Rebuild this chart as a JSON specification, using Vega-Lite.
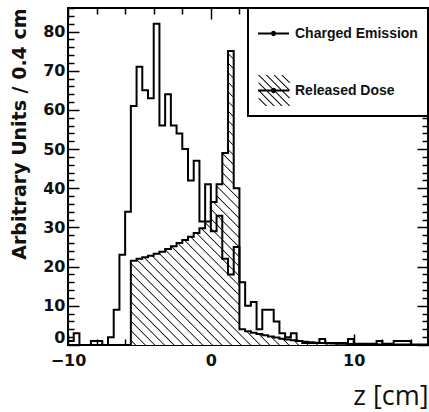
{
  "$schema": "https://vega.github.io/schema/vega-lite/v6.json",
  "width": 360,
  "height": 337,
  "autosize": {"type": "none"},
  "padding": {"left": 68, "top": 8, "right": 1, "bottom": 67},
  "background": "white",
  "data": {"values": [
    {"z": -10.0, "charged": 1, "dose": 0},
    {"z": -9.6, "charged": 3, "dose": 0},
    {"z": -9.2, "charged": 0, "dose": 0},
    {"z": -8.8, "charged": 0, "dose": 0},
    {"z": -8.4, "charged": 1, "dose": 0},
    {"z": -8.0, "charged": 1, "dose": 0},
    {"z": -7.6, "charged": 0, "dose": 0},
    {"z": -7.2, "charged": 2, "dose": 0},
    {"z": -6.8, "charged": 9, "dose": 0},
    {"z": -6.4, "charged": 23, "dose": 0},
    {"z": -6.0, "charged": 34, "dose": 0},
    {"z": -5.6, "charged": 61, "dose": 21.5},
    {"z": -5.2, "charged": 71, "dose": 22},
    {"z": -4.8, "charged": 65, "dose": 22.4},
    {"z": -4.4, "charged": 63, "dose": 22.8},
    {"z": -4.0, "charged": 82, "dose": 23.3},
    {"z": -3.6, "charged": 56, "dose": 23.8},
    {"z": -3.2, "charged": 64, "dose": 24.5},
    {"z": -2.8, "charged": 56, "dose": 25.2},
    {"z": -2.4, "charged": 54, "dose": 26},
    {"z": -2.0, "charged": 50, "dose": 26.8},
    {"z": -1.6, "charged": 42, "dose": 27.6},
    {"z": -1.2, "charged": 47, "dose": 28.6},
    {"z": -0.8, "charged": 31.5, "dose": 29.8},
    {"z": -0.4, "charged": 41, "dose": 31.5},
    {"z": 0.0, "charged": 29, "dose": 36.5},
    {"z": 0.4, "charged": 33, "dose": 41},
    {"z": 0.8, "charged": 22, "dose": 49},
    {"z": 1.2, "charged": 18, "dose": 75},
    {"z": 1.6, "charged": 25, "dose": 40},
    {"z": 2.0, "charged": 16, "dose": 4},
    {"z": 2.4, "charged": 10, "dose": 3.5},
    {"z": 2.8, "charged": 11, "dose": 3.1},
    {"z": 3.2, "charged": 4, "dose": 2.8},
    {"z": 3.6, "charged": 9, "dose": 2.5},
    {"z": 4.0, "charged": 9, "dose": 2.2},
    {"z": 4.4, "charged": 6, "dose": 1.9},
    {"z": 4.8, "charged": 3, "dose": 1.6},
    {"z": 5.2, "charged": 2, "dose": 1.4},
    {"z": 5.6, "charged": 3, "dose": 1.2},
    {"z": 6.0, "charged": 1, "dose": 1.0},
    {"z": 6.4, "charged": 0.5, "dose": 0.85},
    {"z": 6.8, "charged": 0.5, "dose": 0.7},
    {"z": 7.2, "charged": 0.5, "dose": 0.6},
    {"z": 7.6, "charged": 1.5, "dose": 0.5},
    {"z": 8.0, "charged": 0.5, "dose": 0.45},
    {"z": 8.4, "charged": 0.5, "dose": 0.4},
    {"z": 8.8, "charged": 0.5, "dose": 0.35},
    {"z": 9.2, "charged": 0.5, "dose": 0.3},
    {"z": 9.6, "charged": 1.5, "dose": 0.27},
    {"z": 10.0, "charged": 0.3, "dose": 0.24},
    {"z": 10.4, "charged": 0.3, "dose": 0.21},
    {"z": 10.8, "charged": 0.3, "dose": 0.19},
    {"z": 11.2, "charged": 0.3, "dose": 0.17},
    {"z": 11.6, "charged": 1, "dose": 0.15},
    {"z": 12.0, "charged": 0.3, "dose": 0.13},
    {"z": 12.4, "charged": 0.3, "dose": 0.12},
    {"z": 12.8, "charged": 1, "dose": 0.1},
    {"z": 13.2, "charged": 1, "dose": 0.1},
    {"z": 13.6, "charged": 1, "dose": 0.1},
    {"z": 14.0, "charged": 0, "dose": 0.1},
    {"z": 14.4, "charged": 0, "dose": 0.1},
    {"z": 14.8, "charged": 0, "dose": 0.1},
    {"z": 15.2, "charged": 0, "dose": 0.1}
  ]},
  "config": {
    "view": {"stroke": "black", "strokeWidth": 2},
    "axis": {
      "grid": false, "domain": false, "labelColor": "#111", "titleColor": "#111",
      "ticks": true, "tickColor": "black", "tickOpacity": 1, "tickWidth": 1.5, "tickSize": -11, "zindex": 1
    }
  },
  "resolve": {"axis": {"x": "independent", "y": "independent"}},
  "layer": [
    {
      "mark": {
        "type": "area",
        "interpolate": "step-after",
        "opacity": 1,
        "fill": {
          "gradient": "linear",
          "x1": 0, "y1": 0.814, "x2": 1, "y2": 0,
          "stops": [
            {"offset": 0.004, "color": "white"}, {"offset": 0.006, "color": "#111"}, {"offset": 0.008, "color": "white"},
            {"offset": 0.020, "color": "white"}, {"offset": 0.022, "color": "#111"}, {"offset": 0.024, "color": "white"},
            {"offset": 0.036, "color": "white"}, {"offset": 0.038, "color": "#111"}, {"offset": 0.040, "color": "white"},
            {"offset": 0.052, "color": "white"}, {"offset": 0.054, "color": "#111"}, {"offset": 0.056, "color": "white"},
            {"offset": 0.068, "color": "white"}, {"offset": 0.070, "color": "#111"}, {"offset": 0.072, "color": "white"},
            {"offset": 0.084, "color": "white"}, {"offset": 0.086, "color": "#111"}, {"offset": 0.088, "color": "white"},
            {"offset": 0.100, "color": "white"}, {"offset": 0.102, "color": "#111"}, {"offset": 0.104, "color": "white"},
            {"offset": 0.116, "color": "white"}, {"offset": 0.118, "color": "#111"}, {"offset": 0.120, "color": "white"},
            {"offset": 0.132, "color": "white"}, {"offset": 0.134, "color": "#111"}, {"offset": 0.136, "color": "white"},
            {"offset": 0.148, "color": "white"}, {"offset": 0.150, "color": "#111"}, {"offset": 0.152, "color": "white"},
            {"offset": 0.164, "color": "white"}, {"offset": 0.166, "color": "#111"}, {"offset": 0.168, "color": "white"},
            {"offset": 0.180, "color": "white"}, {"offset": 0.182, "color": "#111"}, {"offset": 0.184, "color": "white"},
            {"offset": 0.196, "color": "white"}, {"offset": 0.198, "color": "#111"}, {"offset": 0.200, "color": "white"},
            {"offset": 0.212, "color": "white"}, {"offset": 0.214, "color": "#111"}, {"offset": 0.216, "color": "white"},
            {"offset": 0.228, "color": "white"}, {"offset": 0.230, "color": "#111"}, {"offset": 0.232, "color": "white"},
            {"offset": 0.244, "color": "white"}, {"offset": 0.246, "color": "#111"}, {"offset": 0.248, "color": "white"},
            {"offset": 0.260, "color": "white"}, {"offset": 0.262, "color": "#111"}, {"offset": 0.264, "color": "white"},
            {"offset": 0.276, "color": "white"}, {"offset": 0.278, "color": "#111"}, {"offset": 0.280, "color": "white"},
            {"offset": 0.292, "color": "white"}, {"offset": 0.294, "color": "#111"}, {"offset": 0.296, "color": "white"},
            {"offset": 0.308, "color": "white"}, {"offset": 0.310, "color": "#111"}, {"offset": 0.312, "color": "white"},
            {"offset": 0.324, "color": "white"}, {"offset": 0.326, "color": "#111"}, {"offset": 0.328, "color": "white"},
            {"offset": 0.340, "color": "white"}, {"offset": 0.342, "color": "#111"}, {"offset": 0.344, "color": "white"},
            {"offset": 0.356, "color": "white"}, {"offset": 0.358, "color": "#111"}, {"offset": 0.360, "color": "white"},
            {"offset": 0.372, "color": "white"}, {"offset": 0.374, "color": "#111"}, {"offset": 0.376, "color": "white"},
            {"offset": 0.388, "color": "white"}, {"offset": 0.390, "color": "#111"}, {"offset": 0.392, "color": "white"},
            {"offset": 0.404, "color": "white"}, {"offset": 0.406, "color": "#111"}, {"offset": 0.408, "color": "white"},
            {"offset": 0.420, "color": "white"}, {"offset": 0.422, "color": "#111"}, {"offset": 0.424, "color": "white"},
            {"offset": 0.436, "color": "white"}, {"offset": 0.438, "color": "#111"}, {"offset": 0.440, "color": "white"},
            {"offset": 0.452, "color": "white"}, {"offset": 0.454, "color": "#111"}, {"offset": 0.456, "color": "white"},
            {"offset": 0.468, "color": "white"}, {"offset": 0.470, "color": "#111"}, {"offset": 0.472, "color": "white"},
            {"offset": 0.484, "color": "white"}, {"offset": 0.486, "color": "#111"}, {"offset": 0.488, "color": "white"},
            {"offset": 0.500, "color": "white"}, {"offset": 0.502, "color": "#111"}, {"offset": 0.504, "color": "white"},
            {"offset": 0.516, "color": "white"}, {"offset": 0.518, "color": "#111"}, {"offset": 0.520, "color": "white"},
            {"offset": 0.532, "color": "white"}, {"offset": 0.534, "color": "#111"}, {"offset": 0.536, "color": "white"},
            {"offset": 0.548, "color": "white"}, {"offset": 0.550, "color": "#111"}, {"offset": 0.552, "color": "white"},
            {"offset": 0.564, "color": "white"}, {"offset": 0.566, "color": "#111"}, {"offset": 0.568, "color": "white"},
            {"offset": 0.580, "color": "white"}, {"offset": 0.582, "color": "#111"}, {"offset": 0.584, "color": "white"},
            {"offset": 0.596, "color": "white"}, {"offset": 0.598, "color": "#111"}, {"offset": 0.600, "color": "white"},
            {"offset": 0.612, "color": "white"}, {"offset": 0.614, "color": "#111"}, {"offset": 0.616, "color": "white"},
            {"offset": 0.628, "color": "white"}, {"offset": 0.630, "color": "#111"}, {"offset": 0.632, "color": "white"},
            {"offset": 0.644, "color": "white"}, {"offset": 0.646, "color": "#111"}, {"offset": 0.648, "color": "white"},
            {"offset": 0.660, "color": "white"}, {"offset": 0.662, "color": "#111"}, {"offset": 0.664, "color": "white"},
            {"offset": 0.676, "color": "white"}, {"offset": 0.678, "color": "#111"}, {"offset": 0.680, "color": "white"},
            {"offset": 0.692, "color": "white"}, {"offset": 0.694, "color": "#111"}, {"offset": 0.696, "color": "white"},
            {"offset": 0.708, "color": "white"}, {"offset": 0.710, "color": "#111"}, {"offset": 0.712, "color": "white"},
            {"offset": 0.724, "color": "white"}, {"offset": 0.726, "color": "#111"}, {"offset": 0.728, "color": "white"},
            {"offset": 0.740, "color": "white"}, {"offset": 0.742, "color": "#111"}, {"offset": 0.744, "color": "white"},
            {"offset": 0.756, "color": "white"}, {"offset": 0.758, "color": "#111"}, {"offset": 0.760, "color": "white"},
            {"offset": 0.772, "color": "white"}, {"offset": 0.774, "color": "#111"}, {"offset": 0.776, "color": "white"},
            {"offset": 0.788, "color": "white"}, {"offset": 0.790, "color": "#111"}, {"offset": 0.792, "color": "white"},
            {"offset": 0.804, "color": "white"}, {"offset": 0.806, "color": "#111"}, {"offset": 0.808, "color": "white"},
            {"offset": 0.820, "color": "white"}, {"offset": 0.822, "color": "#111"}, {"offset": 0.824, "color": "white"},
            {"offset": 0.836, "color": "white"}, {"offset": 0.838, "color": "#111"}, {"offset": 0.840, "color": "white"},
            {"offset": 0.852, "color": "white"}, {"offset": 0.854, "color": "#111"}, {"offset": 0.856, "color": "white"},
            {"offset": 0.868, "color": "white"}, {"offset": 0.870, "color": "#111"}, {"offset": 0.872, "color": "white"},
            {"offset": 0.884, "color": "white"}, {"offset": 0.886, "color": "#111"}, {"offset": 0.888, "color": "white"},
            {"offset": 0.900, "color": "white"}, {"offset": 0.902, "color": "#111"}, {"offset": 0.904, "color": "white"},
            {"offset": 0.916, "color": "white"}, {"offset": 0.918, "color": "#111"}, {"offset": 0.920, "color": "white"},
            {"offset": 0.932, "color": "white"}, {"offset": 0.934, "color": "#111"}, {"offset": 0.936, "color": "white"},
            {"offset": 0.948, "color": "white"}, {"offset": 0.950, "color": "#111"}, {"offset": 0.952, "color": "white"},
            {"offset": 0.964, "color": "white"}, {"offset": 0.966, "color": "#111"}, {"offset": 0.968, "color": "white"},
            {"offset": 0.980, "color": "white"}, {"offset": 0.982, "color": "#111"}, {"offset": 0.984, "color": "white"}
          ]
        }
      },
      "encoding": {
        "x": {
          "field": "z", "type": "quantitative",
          "scale": {"domain": [-10, 15.2], "nice": false, "zero": false},
          "axis": {
            "orient": "bottom",
            "values": [-10, -8, -6, -4, -2, 0, 2, 4, 6, 8, 10, 12, 14],
            "tickDash": {"condition": {"test": "datum.value % 10 !== 0", "value": [6, 100]}, "value": [40, 0]},
            "labelExpr": "datum.value % 10 === 0 ? datum.label : ''",
            "labelFont": "DejaVu Sans", "labelFontWeight": "bold", "labelFontSize": 16,
            "labelPadding": 18, "labelFlush": false, "labelOverlap": false,
            "title": "z [cm]", "titleFont": "Open Sans", "titleFontSize": 27, "titleFontWeight": "normal",
            "titleAnchor": "end", "titlePadding": 15
          }
        },
        "y": {
          "field": "dose", "type": "quantitative",
          "scale": {"domain": [0, 86], "nice": false, "zero": true},
          "axis": {
            "orient": "left",
            "values": [0, 2, 4, 6, 8, 10, 12, 14, 16, 18, 20, 22, 24, 26, 28, 30, 32, 34, 36, 38, 40, 42, 44, 46, 48, 50, 52, 54, 56, 58, 60, 62, 64, 66, 68, 70, 72, 74, 76, 78, 80, 82, 84, 86],
            "tickDash": {"condition": {"test": "datum.value % 10 !== 0", "value": [6, 100]}, "value": [40, 0]},
            "labelExpr": "datum.value % 10 === 0 ? datum.label : ''",
            "labelBaseline": {"condition": {"test": "datum.value === 0", "value": "bottom"}, "value": "middle"},
            "labelFont": "DejaVu Sans", "labelFontWeight": "bold", "labelFontSize": 16,
            "labelPadding": 14, "labelOverlap": false,
            "title": "Arbitrary Units / 0.4 cm", "titleFont": "DejaVu Sans", "titleFontSize": 19, "titleFontWeight": "bold",
            "titleAnchor": "end", "titlePadding": 13
          }
        }
      }
    },
    {
      "mark": {"type": "line", "interpolate": "step-after", "strokeWidth": 2},
      "encoding": {
        "x": {
          "field": "z", "type": "quantitative",
          "axis": {
            "orient": "top",
            "values": [-10, -8, -6, -4, -2, 0, 2, 4, 6, 8, 10, 12, 14],
            "tickDash": {"condition": {"test": "datum.value % 10 !== 0", "value": [6, 100]}, "value": [40, 0]},
            "labels": false, "title": null
          }
        },
        "y": {
          "field": "dose", "type": "quantitative",
          "axis": {
            "orient": "right",
            "values": [0, 2, 4, 6, 8, 10, 12, 14, 16, 18, 20, 22, 24, 26, 28, 30, 32, 34, 36, 38, 40, 42, 44, 46, 48, 50, 52, 54, 56, 58, 60, 62, 64, 66, 68, 70, 72, 74, 76, 78, 80, 82, 84, 86],
            "tickDash": {"condition": {"test": "datum.value % 10 !== 0", "value": [6, 100]}, "value": [40, 0]},
            "labels": false, "title": null
          }
        },
        "stroke": {
          "datum": "Released Dose",
          "type": "nominal",
          "scale": {"domain": ["Charged Emission", "Released Dose"], "range": ["black", "black"]},
          "legend": {
            "title": null,
            "orient": "top-right",
            "offset": 0,
            "padding": 10,
            "rowPadding": 34,
            "symbolSize": 961,
            "symbolStrokeWidth": 0,
            "symbolFillColor": "black",
            "labelOffset": 6,
            "labelFont": "Liberation Sans",
            "labelFontWeight": "bold",
            "labelFontSize": 14,
            "labelColor": "#111",
            "strokeColor": "black",
            "fillColor": "white",
            "zindex": 2,
            "encoding": {
              "symbols": {
                "shape": {"condition": {"test": "datum.value === 'Released Dose'", "value": "M-1,0.5L-0.91,0.5L-0.41,1L-0.5,1ZM-1,0L-0.91,0L0.09,1L0,1ZM-1,-0.5L-0.91,-0.5L0.59,1L0.5,1ZM-1,-1L-0.91,-1L1.09,1L1,1ZM-0.5,-1L-0.41,-1L1.09,0.5L1,0.5ZM0,-1L0.09,-1L1.09,0L1,0ZM0.5,-1L0.59,-1L1.09,-0.5L1,-0.5ZM-1,-0.065L1,-0.065L1,0.065L-1,0.065ZM0.17,0A0.17,0.17,0,1,1,-0.17,0A0.17,0.17,0,1,1,0.17,0Z"}, "value": "M-1,-0.065L1,-0.065L1,0.065L-1,0.065ZM0.17,0A0.17,0.17,0,1,1,-0.17,0A0.17,0.17,0,1,1,0.17,0Z"},
                "fill": {"value": "black"},
                "strokeWidth": {"value": 0}
              },
              "legend": {"strokeWidth": {"value": 2}}
            }
          }
        }
      }
    },
    {
      "mark": {"type": "line", "interpolate": "step-after", "strokeWidth": 2},
      "encoding": {
        "x": {"field": "z", "type": "quantitative", "axis": null},
        "y": {"field": "charged", "type": "quantitative", "axis": null},
        "stroke": {"datum": "Charged Emission", "type": "nominal"}
      }
    }
  ]
}
